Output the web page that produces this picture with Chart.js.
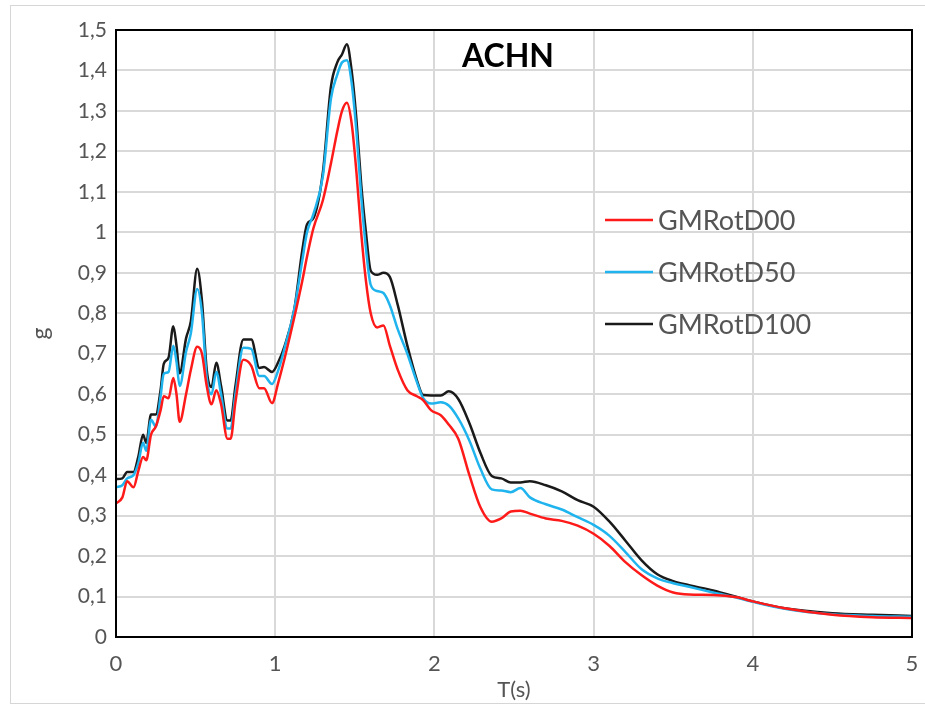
<!DOCTYPE html>
<html>
<head>
<meta charset="utf-8">
<script src="https://cdn.jsdelivr.net/npm/chart.js@4.4.1/dist/chart.umd.min.js"></script>
<style>
  html, body { margin: 0; padding: 0; background: #fff; overflow: hidden; }
  #frame { position: absolute; left: 10px; top: 5px; width: 940px; height: 697px; border: 1px solid #d6d6d6; }
  #wrap { position: absolute; left: 0; top: 0; width: 925px; height: 716px; }
</style>
</head>
<body>
<div id="frame"></div>
<div id="wrap"><canvas id="spectrum" width="925" height="716"></canvas></div>
<script>
// periods T(s), shared by all three curves
const periods = [0, 0.04, 0.07, 0.11, 0.14, 0.17, 0.19, 0.22, 0.25, 0.28, 0.30, 0.33, 0.36, 0.38, 0.40,
  0.44, 0.47, 0.51, 0.54, 0.57, 0.60, 0.63, 0.66, 0.70, 0.72, 0.75, 0.80, 0.85, 0.90, 0.93, 0.98,
  1.02, 1.06, 1.12, 1.17, 1.20, 1.24, 1.30, 1.35, 1.39, 1.42, 1.45, 1.48, 1.51, 1.54, 1.57, 1.60,
  1.64, 1.68, 1.72, 1.77, 1.83, 1.89, 1.93, 1.98, 2.04, 2.09, 2.15, 2.22, 2.29, 2.36, 2.42, 2.48,
  2.54, 2.60, 2.70, 2.80, 2.90, 3.00, 3.10, 3.20, 3.30, 3.40, 3.50, 3.60, 3.75, 3.90, 4.00, 4.20,
  4.50, 4.75, 5.00];

const rotD00 = [0.33, 0.345, 0.385, 0.37, 0.41, 0.445, 0.437, 0.50, 0.52, 0.56, 0.595, 0.59, 0.64, 0.60, 0.532,
  0.60, 0.66, 0.717, 0.70, 0.62, 0.575, 0.61, 0.575, 0.49, 0.49, 0.58, 0.685, 0.67, 0.615, 0.615, 0.578,
  0.63, 0.69, 0.79, 0.88, 0.94, 1.01, 1.08, 1.17, 1.25, 1.30, 1.32, 1.27, 1.15, 1.0, 0.88, 0.80,
  0.765, 0.77, 0.72, 0.66, 0.61, 0.595, 0.585, 0.56, 0.548, 0.525, 0.49, 0.40, 0.32, 0.285, 0.293, 0.31,
  0.312, 0.305, 0.293, 0.287, 0.275, 0.255, 0.225, 0.185, 0.153, 0.127, 0.11, 0.105, 0.104, 0.098, 0.088, 0.071,
  0.055, 0.049, 0.047];

const rotD50 = [0.37, 0.375, 0.392, 0.40, 0.43, 0.48, 0.46, 0.537, 0.52, 0.595, 0.65, 0.655, 0.72, 0.68, 0.62,
  0.705, 0.75, 0.86, 0.80, 0.64, 0.60, 0.655, 0.60, 0.515, 0.515, 0.60, 0.715, 0.712, 0.645, 0.645, 0.625,
  0.66, 0.715, 0.81, 0.93, 1.0, 1.045, 1.14, 1.33, 1.39, 1.42, 1.425, 1.37, 1.25, 1.09, 0.96, 0.87,
  0.855, 0.85, 0.82, 0.76, 0.70, 0.63, 0.59, 0.577, 0.58, 0.572, 0.54, 0.485, 0.415, 0.365, 0.362, 0.358,
  0.368, 0.345, 0.328, 0.315, 0.296, 0.277, 0.25, 0.21, 0.168, 0.145, 0.133, 0.124, 0.11, 0.097, 0.087, 0.07,
  0.056, 0.052, 0.05];

const rotD100 = [0.39, 0.392, 0.408, 0.408, 0.445, 0.50, 0.48, 0.55, 0.55, 0.61, 0.675, 0.69, 0.768, 0.72, 0.652,
  0.738, 0.78, 0.91, 0.83, 0.66, 0.618, 0.678, 0.62, 0.535, 0.535, 0.62, 0.735, 0.735, 0.665, 0.667, 0.655,
  0.68, 0.72, 0.81, 0.955, 1.02, 1.035, 1.15, 1.36, 1.42, 1.44, 1.465, 1.40, 1.28, 1.12, 1.0, 0.905,
  0.895, 0.90, 0.89, 0.82, 0.72, 0.635, 0.598, 0.597, 0.597, 0.607, 0.588, 0.528, 0.454, 0.398, 0.392, 0.382,
  0.382, 0.385, 0.375, 0.36, 0.338, 0.322, 0.285, 0.238, 0.19, 0.155, 0.138, 0.128, 0.115, 0.099, 0.088, 0.071,
  0.059, 0.055, 0.052];

const seriesNames = ['GMRotD00', 'GMRotD50', 'GMRotD100'];
const seriesColors = ['#ff1a1a', '#1fb4ee', '#1a1a1a'];
const yTickLabels = ['0', '0,1', '0,2', '0,3', '0,4', '0,5', '0,6', '0,7', '0,8', '0,9',
  '1', '1,1', '1,2', '1,3', '1,4', '1,5'];
const xTickLabels = ['0', '1', '2', '3', '4', '5'];

const FONT = 'Lato, "Open Sans", sans-serif';
const GREY = '#555555';

function toPoints(values) {
  return periods.map((t, i) => ({ x: t, y: values[i] }));
}

// title, boxed frame and in-plot legend
const plotExtras = {
  id: 'plotExtras',
  afterDatasetsDraw(chart) {
    const ctx = chart.ctx;
    const a = chart.chartArea;
    ctx.save();

    ctx.strokeStyle = '#000';
    ctx.lineWidth = 2;
    ctx.strokeRect(a.left, a.top, a.right - a.left, a.bottom - a.top);

    ctx.fillStyle = '#000';
    ctx.font = 'bold 32px ' + FONT;
    ctx.textAlign = 'center';
    ctx.textBaseline = 'middle';
    ctx.fillText('ACHN', 508, a.top + 27);

    ctx.font = '27px ' + FONT;
    ctx.textAlign = 'left';
    chart.data.datasets.forEach((ds, i) => {
      const y = a.top + 190 + i * 52;
      ctx.strokeStyle = ds.borderColor;
      ctx.lineWidth = 2.5;
      ctx.beginPath();
      ctx.moveTo(605, y);
      ctx.lineTo(653, y);
      ctx.stroke();
      ctx.fillStyle = GREY;
      ctx.fillText(ds.label, 658, y + 1);
    });
    ctx.restore();
  }
};

new Chart(document.getElementById('spectrum'), {
  type: 'line',
  data: {
    datasets: [
      { label: seriesNames[0], data: toPoints(rotD00), borderColor: seriesColors[0] },
      { label: seriesNames[1], data: toPoints(rotD50), borderColor: seriesColors[1] },
      { label: seriesNames[2], data: toPoints(rotD100), borderColor: seriesColors[2] }
    ]
  },
  options: {
    responsive: false,
    animation: false,
    devicePixelRatio: 1,
    layout: { padding: { top: 30, right: 13, left: 0, bottom: 0 } },
    elements: {
      point: { radius: 0 },
      line: { borderWidth: 2.5, tension: 0.4, cubicInterpolationMode: 'monotone', fill: false }
    },
    plugins: {
      legend: { display: false },
      tooltip: { enabled: false }
    },
    scales: {
      x: {
        type: 'linear',
        min: 0,
        max: 5,
        afterFit: (s) => { s.height = 79; s.paddingLeft = 0; s.paddingRight = 0; },
        ticks: {
          stepSize: 1,
          padding: 14,
          color: GREY,
          font: { family: FONT, size: 22 },
          callback: (v, i) => xTickLabels[i]
        },
        grid: { color: '#d9d9d9', lineWidth: 2, drawTicks: false },
        border: { display: false },
        title: {
          display: true,
          text: 'T(s)',
          color: GREY,
          font: { family: FONT, size: 22 },
          padding: { top: 0, bottom: 13 }
        }
      },
      y: {
        min: 0,
        max: 1.5,
        afterFit: (s) => { s.width = 116; },
        ticks: {
          stepSize: 0.1,
          padding: 9,
          color: GREY,
          font: { family: FONT, size: 21 },
          callback: (v, i) => yTickLabels[i]
        },
        grid: { color: '#d9d9d9', lineWidth: 2, drawTicks: false },
        border: { display: false },
        title: {
          display: true,
          text: 'g',
          color: GREY,
          font: { family: FONT, size: 23 },
          padding: { top: 27, bottom: 0 }
        }
      }
    }
  },
  plugins: [plotExtras]
});
</script>
</body>
</html>
